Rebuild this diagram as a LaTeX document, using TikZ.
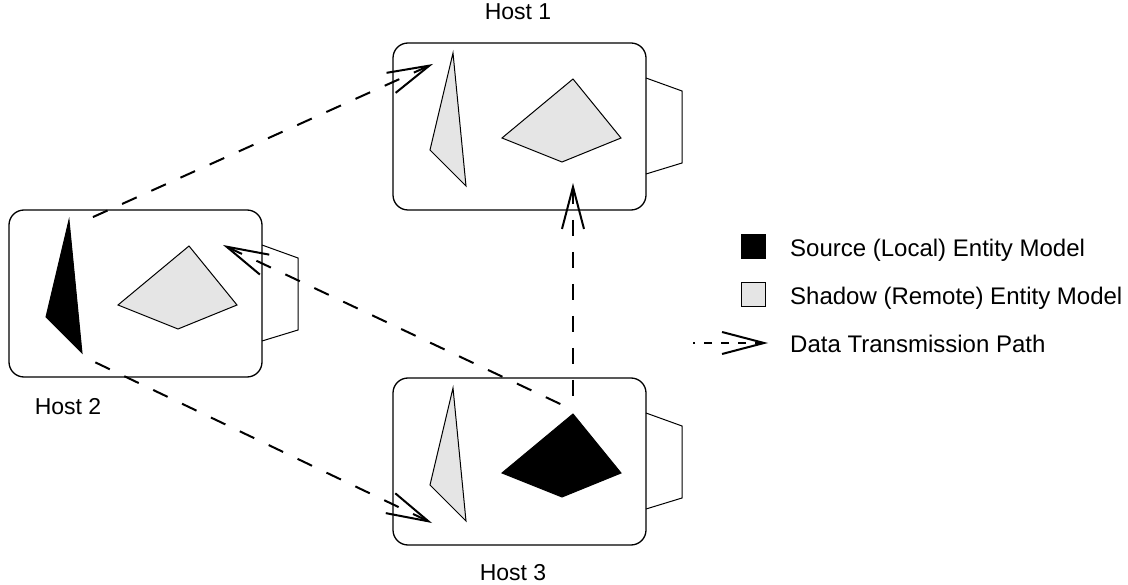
\documentclass[tikz,border=0pt]{standalone}
\usepackage{fontspec}
\setmainfont{Liberation Sans}
\usetikzlibrary{arrows.meta}
\definecolor{shadowgray}{RGB}{229,229,229}
\tikzset{
  hostframe/.style={draw, line width=1.3pt, rounded corners=15pt, anchor=north west,
    minimum width=253pt, minimum height=167pt, inner sep=0pt, outer sep=0pt},
  port/.style={draw, line width=1pt, line join=miter},
  shadowmodel/.style={draw, line width=1pt, fill=shadowgray, line join=miter},
  sourcemodel/.style={draw, line width=1pt, fill=black, line join=miter},
  flowtip/.style={{Straight Barb[length=42pt,width=22pt,line width=2pt]}-},
  flow/.style={line width=2pt, dash pattern=on 16pt off 16pt, flowtip},
  keyflow/.style={line width=1.2pt, dash pattern=on 8pt off 9pt, flowtip},
  hostlabel/.style={font=\fontsize{23}{27}\selectfont, anchor=base, inner sep=0pt},
  legendtext/.style={font=\fontsize{24}{28}\selectfont, anchor=base west, inner sep=0pt},
  pics/hostunit/.style 2 args={code={
    \draw[port] (253,35) -- (289,48) -- (289,120) -- (253,131);
    \draw[#1] (60,10) -- (37,107) -- (73,143) -- cycle;
    \draw[#2] (109,95) -- (180,36) -- (228,95) -- (169,119) -- cycle;
  }}
}
\begin{document}
\begin{tikzpicture}[x=1pt, y=-1pt]
\useasboundingbox (0,0) rectangle (1128,585);

% Host 1: both models are shadows
\begin{scope}[shift={(393,43)}]
  \node[hostframe] (host1) at (0,0) {};
  \pic {hostunit={shadowmodel}{shadowmodel}};
  \coordinate (h1-inleft) at (40,21);
  \coordinate (h1-inbottom) at (180,140);
\end{scope}

% Host 2: owns the triangle
\begin{scope}[shift={(9,210)}]
  \node[hostframe] (host2) at (0,0) {};
  \pic {hostunit={sourcemodel}{shadowmodel}};
  \coordinate (h2-outtop) at (73,12);
  \coordinate (h2-outbottom) at (73,146);
  \coordinate (h2-inright) at (214,35);
\end{scope}

% Host 3: owns the quadrilateral
\begin{scope}[shift={(393,378)}]
  \node[hostframe] (host3) at (0,0) {};
  \pic {hostunit={shadowmodel}{sourcemodel}};
  \coordinate (h3-inleft) at (39,145);
  \coordinate (h3-out) at (180,32);
\end{scope}

\node[hostlabel] (host1-label) at (518,20) {Host 1};
\node[hostlabel] (host2-label) at (68,414) {Host 2};
\node[hostlabel] (host3-label) at (513,580) {Host 3};

% Data transmission paths (drawn from the receiving end)
\draw[flow] (h1-inleft) -- (h2-outtop);
\draw[flow] (h3-inleft) -- (h2-outbottom);
\draw[flow] (h2-inright) -- (h3-out);
\draw[flow] (h1-inbottom) -- (h3-out);

% Legend
\node[fill=black, minimum size=25pt, inner sep=0pt, outer sep=0pt] (key-source) at (753.5,246.5) {};
\node[draw, line width=1pt, fill=shadowgray, minimum size=24pt, inner sep=0pt, outer sep=0pt] (key-shadow) at (753.5,295) {};
\coordinate (key-flow-tip) at (768,343);
\coordinate (key-flow-tail) at (693,343);
\draw[keyflow] (key-flow-tip) -- (key-flow-tail);
\node[legendtext] (key-source-text) at (790,257) {Source (Local) Entity Model};
\node[legendtext] (key-shadow-text) at (790,305) {Shadow (Remote) Entity Model};
\node[legendtext] (key-flow-text) at (790,353) {Data Transmission Path};
\end{tikzpicture}
\end{document}
